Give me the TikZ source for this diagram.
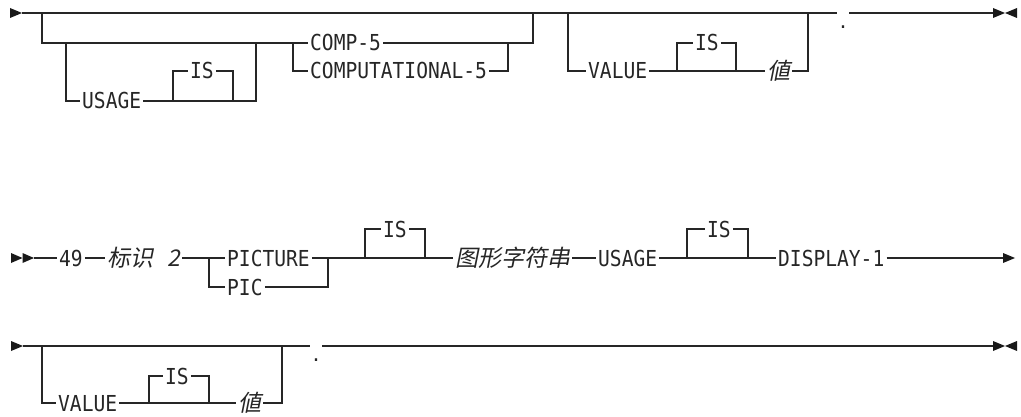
\documentclass[tikz,border=0pt]{standalone}
\usepackage{fontspec}
\newfontfamily\monof[FakeStretch=0.89]{DejaVu Sans Mono}
\newfontfamily\dotf{DejaVu Sans}
\newfontfamily\cjkf[FakeSlant=0.2]{Noto Sans CJK SC}
\begin{document}
\begin{tikzpicture}[x=1pt,y=-1pt,
  ln/.style={line width=1.3pt, draw=black!85},
  kw/.style={inner xsep=2pt, inner ysep=0pt, text height=16pt, text depth=0pt, anchor=west,
    font=\monof\fontsize{22pt}{24pt}\selectfont, text=black!85},
  var/.style={inner xsep=2pt, inner ysep=0pt, text height=17pt, text depth=0pt, anchor=west,
    font=\cjkf\fontsize{23pt}{25pt}\selectfont, text=black!85},
  dotn/.style={inner sep=0pt, minimum width=12pt, minimum height=4pt, anchor=north,
    font=\dotf\fontsize{22pt}{24pt}\selectfont, text=black!85},
  tri/.style={fill=black!90}
]
\useasboundingbox (0,0) rectangle (1021,417);

% ---------------- row 1 ----------------
\coordinate (s1) at (22,13);
\fill[tri] (10,8) -- (s1) -- (10,18) -- cycle;
\coordinate (j1) at (42,13);
\coordinate (j1b) at (42,43);
\coordinate (u1) at (66,43);
\coordinate (u1b) at (66,101);
\node[kw] (usage1) at (80,101) {USAGE};
\coordinate (i1a) at (173,101);
\coordinate (i1at) at (173,71);
\node[kw] (is1) at (188,71) {IS};
\coordinate (i1bt) at (233,71);
\coordinate (i1b) at (233,101);
\coordinate (u2b) at (256,101);
\coordinate (u2) at (256,43);
\coordinate (c1) at (293,43);
\coordinate (c1b) at (293,71);
\node[kw] (comp5) at (308,43) {COMP-5};
\node[kw] (comput5) at (308,71) {COMPUTATIONAL-5};
\coordinate (c2b) at (508,71);
\coordinate (c2) at (508,43);
\coordinate (c3b) at (533,43);
\coordinate (c3) at (533,13);
\coordinate (v1) at (568,13);
\coordinate (v1b) at (568,71);
\node[kw] (value1) at (586,71) {VALUE};
\coordinate (i2a) at (677,71);
\coordinate (i2at) at (677,43);
\node[kw] (is2) at (693,43) {IS};
\coordinate (i2bt) at (736,43);
\coordinate (i2b) at (736,71);
\node[var] (val1) at (765,71) {値};
\coordinate (v2b) at (808,71);
\coordinate (v2) at (808,13);
\node[dotn] (dot1) at (843,25) {.};
\coordinate (e1) at (993,13);
\fill[tri] (993,8) -- (1005,13) -- (993,18) -- cycle;
\fill[tri] (1017,8) -- (1005,13) -- (1017,18) -- cycle;

\draw[ln] (s1) -- (dot1.west |- s1);
\draw[ln] (dot1.east |- e1) -- (e1);
\draw[ln] (j1) -- (j1b) -- (c1);
\draw[ln] (u1) -- (u1b) -- (usage1.west);
\draw[ln] (usage1.east) -- (u2b) -- (u2);
\draw[ln] (i1a) -- (i1at) -- (is1.west);
\draw[ln] (is1.east) -- (i1bt) -- (i1b);
\draw[ln] (c1) -- (comp5.west);
\draw[ln] (c1) -- (c1b) -- (comput5.west);
\draw[ln] (comp5.east) -- (c3b) -- (c3);
\draw[ln] (comput5.east) -- (c2b) -- (c2);
\draw[ln] (v1) -- (v1b) -- (value1.west);
\draw[ln] (value1.east) -- (val1.west);
\draw[ln] (i2a) -- (i2at) -- (is2.west);
\draw[ln] (is2.east) -- (i2bt) -- (i2b);
\draw[ln] (val1.east) -- (v2b) -- (v2);

% ---------------- row 2 ----------------
\fill[tri] (11,253) -- (22.5,258) -- (11,263) -- cycle;
\fill[tri] (22.5,253) -- (34,258) -- (22.5,263) -- cycle;
\coordinate (s2) at (34,258);
\node[kw] (n49) at (57,258) {49};
\node[var] (id2) at (105,258) {标识\hspace{14pt}2};
\coordinate (p1) at (209,258);
\coordinate (p1b) at (209,287);
\node[kw] (pict) at (225,258) {PICTURE};
\node[kw] (pic) at (225,287) {PIC};
\coordinate (p2b) at (328,287);
\coordinate (p2) at (328,258);
\coordinate (i3a) at (365,258);
\coordinate (i3at) at (365,229);
\node[kw] (is3) at (381,229) {IS};
\coordinate (i3bt) at (425,229);
\coordinate (i3b) at (425,258);
\node[var] (pstr) at (453,258) {图形字符串};
\node[kw] (usage2) at (596,258) {USAGE};
\coordinate (i4a) at (687,258);
\coordinate (i4at) at (687,229);
\node[kw] (is4) at (705,229) {IS};
\coordinate (i4bt) at (748,229);
\coordinate (i4b) at (748,258);
\node[kw] (disp) at (776,258) {DISPLAY-1};
\coordinate (e2) at (1003,258);
\fill[tri] (1003,253) -- (1015,258) -- (1003,263) -- cycle;

\draw[ln] (s2) -- (n49.west);
\draw[ln] (n49.east) -- (id2.west);
\draw[ln] (id2.east) -- (pict.west);
\draw[ln] (p1) -- (p1b) -- (pic.west);
\draw[ln] (pict.east) -- (pstr.west);
\draw[ln] (pic.east) -- (p2b) -- (p2);
\draw[ln] (i3a) -- (i3at) -- (is3.west);
\draw[ln] (is3.east) -- (i3bt) -- (i3b);
\draw[ln] (pstr.east) -- (usage2.west);
\draw[ln] (usage2.east) -- (disp.west);
\draw[ln] (i4a) -- (i4at) -- (is4.west);
\draw[ln] (is4.east) -- (i4bt) -- (i4b);
\draw[ln] (disp.east) -- (e2);

% ---------------- row 3 ----------------
\coordinate (s3) at (23,346);
\fill[tri] (11,341) -- (s3) -- (11,351) -- cycle;
\coordinate (j3) at (42,346);
\coordinate (j3b) at (42,403);
\node[kw] (value3) at (56,403) {VALUE};
\coordinate (i5a) at (149,403);
\coordinate (i5at) at (149,376);
\node[kw] (is5) at (163,376) {IS};
\coordinate (i5bt) at (209,376);
\coordinate (i5b) at (209,403);
\node[var] (val3) at (236,403) {値};
\coordinate (v3b) at (282,403);
\coordinate (v3) at (282,346);
\node[dotn] (dot3) at (316,358) {.};
\coordinate (e3) at (993,346);
\fill[tri] (993,341) -- (1005,346) -- (993,351) -- cycle;
\fill[tri] (1017,341) -- (1005,346) -- (1017,351) -- cycle;

\draw[ln] (s3) -- (dot3.west |- s3);
\draw[ln] (dot3.east |- e3) -- (e3);
\draw[ln] (j3) -- (j3b) -- (value3.west);
\draw[ln] (value3.east) -- (val3.west);
\draw[ln] (i5a) -- (i5at) -- (is5.west);
\draw[ln] (is5.east) -- (i5bt) -- (i5b);
\draw[ln] (val3.east) -- (v3b) -- (v3);
\end{tikzpicture}
\end{document}
